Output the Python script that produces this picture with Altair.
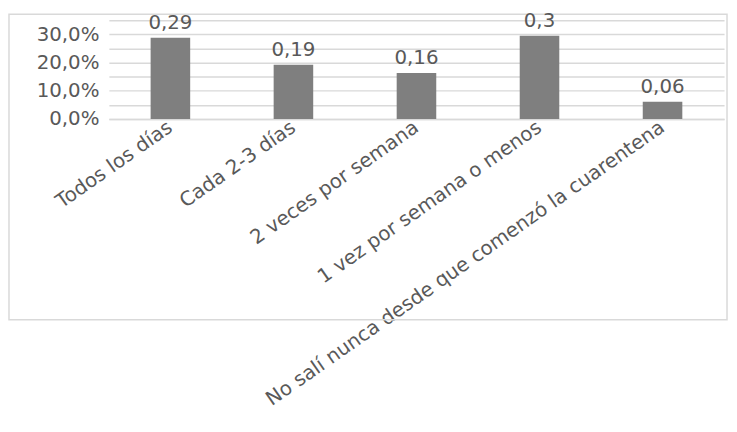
import altair as alt
import pandas as pd

categories = ["Todos los días", "Cada 2-3 días", "2 veces por semana",
              "1 vez por semana o menos", "No salí nunca desde que comenzó la cuarentena"]
values = [0.288, 0.192, 0.163, 0.295, 0.061]
labels = ["0,29", "0,19", "0,16", "0,3", "0,06"]
grid_values = [0.0, 0.05, 0.1, 0.15, 0.2, 0.25, 0.3, 0.35]

df = pd.DataFrame({"cat": categories, "val": values, "lab": labels})

FONT = "DejaVu Sans"
TXT = "#595959"
GRID = "#d9d9d9"

x_enc = alt.X("cat:N", sort=categories, title=None,
              scale=alt.Scale(paddingInner=0, paddingOuter=0),
              axis=alt.Axis(labelAngle=-35, labelAlign="right", labelBaseline="middle",
                            labelPadding=6, ticks=False, domainColor=GRID, domainWidth=1.5,
                            labelFont=FONT, labelFontSize=20, labelColor=TXT,
                            labelLimit=0, labelOverlap=False))
y_enc = alt.Y("val:Q", title=None,
              scale=alt.Scale(domain=[0, 0.35], nice=False),
              axis=alt.Axis(values=grid_values, format=".1%",
                            labelExpr="(round(datum.value*100) % 10 == 0) ? replace(datum.label, '.', ',') : ''",
                            domain=False, ticks=False, grid=True, gridColor=GRID, gridWidth=1.5,
                            labelFont=FONT, labelFontSize=20, labelColor=TXT,
                            labelPadding=10, labelOverlap=False, labelFlush=False))

border = alt.Chart(pd.DataFrame({"a": [0]})).mark_rect(
    filled=False, fillOpacity=0, stroke=GRID, strokeWidth=1.5
).encode(x=alt.value(-101), x2=alt.value(625), y=alt.value(-6), y2=alt.value(303))

bars = alt.Chart(df).mark_bar(size=40, color="#7f7f7f").encode(x=x_enc, y=y_enc)
text = alt.Chart(df).mark_text(baseline="alphabetic", dy=-9, font=FONT, fontSize=20,
                               color=TXT).encode(x=x_enc, y=y_enc, text="lab:N")

chart = alt.layer(border, bars, text).properties(
    width=622, height=100,
    autosize=alt.AutoSizeParams(type="none"),
    padding={"left": 102, "top": 10, "right": 5, "bottom": 303},
).configure_view(stroke=None)

chart.save("out.html", embed_options={"renderer": "svg", "actions": False})
